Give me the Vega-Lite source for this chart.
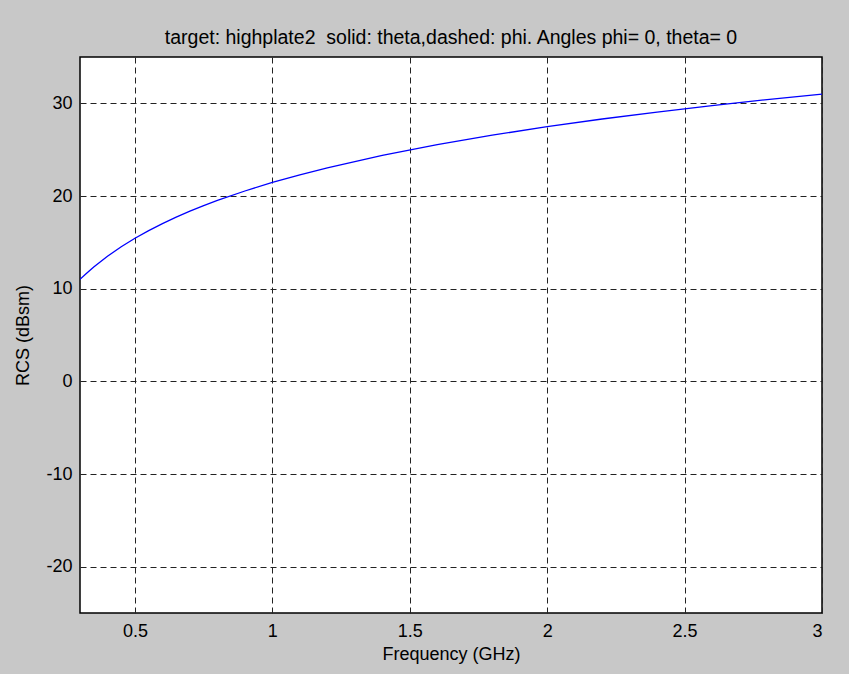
{
  "$schema": "https://vega.github.io/schema/vega-lite/v6.json",
  "width": 742,
  "height": 556,
  "autosize": "none",
  "padding": {"left": 80, "top": 57, "right": 27, "bottom": 61},
  "background": "#c8c8c8",
  "title": {
    "text": "target: highplate2\u00a0 solid: theta,dashed: phi. Angles phi= 0, theta= 0",
    "anchor": "middle",
    "font": "Liberation Sans",
    "fontSize": 19.5,
    "fontWeight": "normal",
    "color": "#000000",
    "offset": 9
  },
  "config": {
    "view": {"fill": "#ffffff", "stroke": "#000000", "strokeWidth": 1.5},
    "axis": {
      "labelFont": "Liberation Sans",
      "labelFontSize": 18,
      "labelColor": "#000000",
      "titleFont": "Liberation Sans",
      "titleFontSize": 18,
      "titleFontWeight": "normal",
      "titleColor": "#000000",
      "domain": false,
      "ticks": false,
      "grid": true,
      "gridColor": "#222222",
      "gridDash": [6, 4],
      "gridWidth": 1,
      "gridOpacity": 1
    }
  },
  "data": {
    "values": [
      {"f": 0.3, "rcs": 11.0},
      {"f": 0.32, "rcs": 11.56},
      {"f": 0.35, "rcs": 12.34},
      {"f": 0.4, "rcs": 13.5},
      {"f": 0.45, "rcs": 14.52},
      {"f": 0.5, "rcs": 15.44},
      {"f": 0.55, "rcs": 16.26},
      {"f": 0.6, "rcs": 17.02},
      {"f": 0.65, "rcs": 17.72},
      {"f": 0.7, "rcs": 18.36},
      {"f": 0.75, "rcs": 18.96},
      {"f": 0.8, "rcs": 19.52},
      {"f": 0.9, "rcs": 20.54},
      {"f": 1.0, "rcs": 21.46},
      {"f": 1.1, "rcs": 22.29},
      {"f": 1.2, "rcs": 23.04},
      {"f": 1.4, "rcs": 24.38},
      {"f": 1.6, "rcs": 25.54},
      {"f": 1.8, "rcs": 26.56},
      {"f": 2.0, "rcs": 27.48},
      {"f": 2.2, "rcs": 28.31},
      {"f": 2.4, "rcs": 29.06},
      {"f": 2.6, "rcs": 29.76},
      {"f": 2.8, "rcs": 30.4},
      {"f": 3.0, "rcs": 31.0}
    ]
  },
  "mark": {"type": "line", "color": "#0000ff", "strokeWidth": 1.3, "clip": true},
  "encoding": {
    "x": {
      "field": "f",
      "type": "quantitative",
      "scale": {"domain": [0.3, 3], "nice": false, "zero": false},
      "axis": {
        "title": "Frequency (GHz)",
        "values": [0.5, 1, 1.5, 2, 2.5, 3],
        "labelExpr": "'' + datum.value",
        "labelPadding": 9,
        "titlePadding": 5
      }
    },
    "y": {
      "field": "rcs",
      "type": "quantitative",
      "scale": {"domain": [-25, 35], "nice": false, "zero": false},
      "axis": {
        "title": "RCS (dBsm)",
        "values": [-20, -10, 0, 10, 20, 30],
        "labelExpr": "'' + datum.value",
        "labelPadding": 8,
        "titlePadding": 13
      }
    }
  }
}
